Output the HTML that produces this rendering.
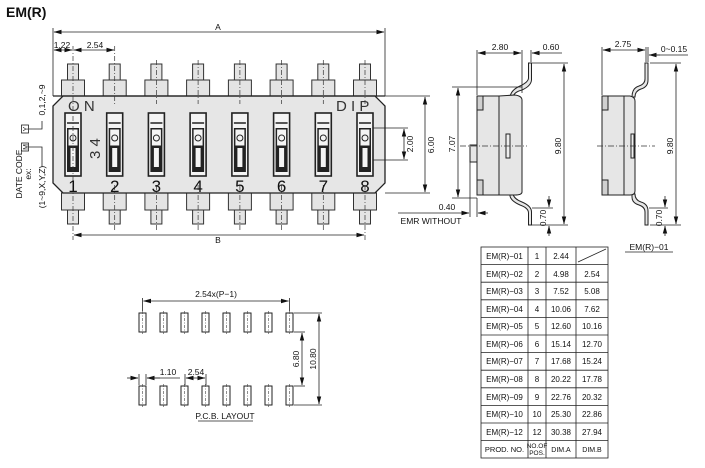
<!DOCTYPE html>
<html><head><meta charset="utf-8"><style>
body{margin:0;background:#fff}
svg{display:block}
text{font-family:"Liberation Sans",sans-serif;fill:#111}
</style></head><body>
<svg width="705" height="468" viewBox="0 0 705 468" xmlns="http://www.w3.org/2000/svg">
<defs>
<marker id="a" markerWidth="8" markerHeight="6" refX="7.5" refY="3" orient="auto-start-reverse" markerUnits="userSpaceOnUse"><path d="M0,0.8 L8,3 L0,5.2z" fill="#111"/></marker>
<g id="pinT"><rect x="-5.5" y="64" width="11" height="16" fill="#e4e4e4" stroke="#333" stroke-width="1"/><rect x="-11.5" y="80" width="23" height="16" fill="#e4e4e4" stroke="#333" stroke-width="1"/></g>
<g id="pinB"><rect x="-11.5" y="193" width="23" height="17" fill="#e4e4e4" stroke="#333" stroke-width="1"/><rect x="-5.5" y="210" width="11" height="14" fill="#e4e4e4" stroke="#333" stroke-width="1"/></g>
<g id="sw"><rect x="-8" y="113" width="16" height="63" fill="#f4f4f4" stroke="#222" stroke-width="1.6"/><rect x="-6" y="128" width="12" height="44" fill="#222"/><rect x="-4.5" y="129.5" width="9" height="16" fill="#f4f4f4"/><circle cx="0" cy="138" r="3" fill="#f4f4f4" stroke="#222" stroke-width="1"/><rect x="-2.5" y="148" width="5" height="19" fill="#f4f4f4"/><line x1="-6" y1="123" x2="6" y2="123" stroke="#222" stroke-width="1.5"/></g>
<g id="pad"><rect x="-3.5" y="0" width="7" height="19" fill="#fff" stroke="#222" stroke-width="1"/><line x1="0" y1="-2" x2="0" y2="21" stroke="#444" stroke-width="0.6" stroke-dasharray="3,1.5,1,1.5"/></g>
</defs>

<text x="6" y="17" font-size="14" font-weight="bold">EM(R)</text>

<g>
<use href="#pinT" x="73"/><use href="#pinT" x="114.7"/><use href="#pinT" x="156.4"/><use href="#pinT" x="198.1"/><use href="#pinT" x="239.9"/><use href="#pinT" x="281.6"/><use href="#pinT" x="323.3"/><use href="#pinT" x="365"/>
<use href="#pinB" x="73"/><use href="#pinB" x="114.7"/><use href="#pinB" x="156.4"/><use href="#pinB" x="198.1"/><use href="#pinB" x="239.9"/><use href="#pinB" x="281.6"/><use href="#pinB" x="323.3"/><use href="#pinB" x="365"/>
</g>
<polygon points="63,96 375,96 385,106 385,183 375,193 63,193 53,183 53,106" fill="#e6e6e6" stroke="#222" stroke-width="1.3"/>
<line x1="53" y1="96" x2="385" y2="96" stroke="#222" stroke-width="1.3"/>
<g>
<use href="#sw" x="73"/><use href="#sw" x="114.7"/><use href="#sw" x="156.4"/><use href="#sw" x="198.1"/><use href="#sw" x="239.9"/><use href="#sw" x="281.6"/><use href="#sw" x="323.3"/><use href="#sw" x="365"/>
</g>
<g stroke="#333" stroke-width="0.7" stroke-dasharray="5,2,1,2">
<line x1="73" y1="46" x2="73" y2="240"/><line x1="114.7" y1="46" x2="114.7" y2="104"/><line x1="114.7" y1="185" x2="114.7" y2="232"/>
<line x1="156.4" y1="60" x2="156.4" y2="104"/><line x1="156.4" y1="185" x2="156.4" y2="232"/>
<line x1="198.1" y1="60" x2="198.1" y2="104"/><line x1="198.1" y1="185" x2="198.1" y2="232"/>
<line x1="239.9" y1="60" x2="239.9" y2="104"/><line x1="239.9" y1="185" x2="239.9" y2="232"/>
<line x1="281.6" y1="60" x2="281.6" y2="104"/><line x1="281.6" y1="185" x2="281.6" y2="232"/>
<line x1="323.3" y1="60" x2="323.3" y2="104"/><line x1="323.3" y1="185" x2="323.3" y2="232"/>
<line x1="365" y1="60" x2="365" y2="104"/><line x1="365" y1="185" x2="365" y2="240"/>
</g>
<text x="68" y="111" font-size="15" style="fill:#333">O N</text>
<text x="336" y="111" font-size="15" style="fill:#333">D I P</text>
<text x="0" y="0" font-size="15" transform="translate(100,159) rotate(-90)" style="fill:#333">3 4</text>
<g font-size="17" text-anchor="middle" style="fill:#333">
<text x="73" y="192">1</text><text x="114.7" y="192">2</text><text x="156.4" y="192">3</text><text x="198.1" y="192">4</text><text x="239.9" y="192">5</text><text x="281.6" y="192">6</text><text x="323.3" y="192">7</text><text x="365" y="192">8</text>
</g>

<g stroke="#222" stroke-width="0.8" fill="none">
<line x1="53" y1="28" x2="53" y2="96"/><line x1="385" y1="28" x2="385" y2="96"/>
<line x1="54" y1="32" x2="384" y2="32" marker-start="url(#a)" marker-end="url(#a)"/>
<line x1="54" y1="50" x2="72" y2="50" marker-start="url(#a)" marker-end="url(#a)"/>
<line x1="74" y1="50" x2="114" y2="50" marker-start="url(#a)" marker-end="url(#a)"/>
<line x1="74" y1="235" x2="364" y2="235" marker-start="url(#a)" marker-end="url(#a)"/>
<line x1="385" y1="96" x2="430" y2="96"/><line x1="385" y1="193" x2="430" y2="193"/>
<line x1="425" y1="97" x2="425" y2="192" marker-start="url(#a)" marker-end="url(#a)"/>
<line x1="373" y1="128" x2="408" y2="128"/><line x1="373" y1="160" x2="408" y2="160"/>
<line x1="404" y1="129" x2="404" y2="159" marker-start="url(#a)" marker-end="url(#a)"/>
</g>
<g font-size="8.5" text-anchor="middle">
<text x="218" y="30">A</text>
<text x="62" y="48">1.22</text><text x="95" y="48">2.54</text>
<text x="218" y="243">B</text>
<text transform="translate(434,145) rotate(-90)">6.00</text>
<text transform="translate(413,144) rotate(-90)">2.00</text>
</g>

<g font-size="8.5" text-anchor="middle">
<text transform="translate(22,174) rotate(-90)">DATE  CODE</text>
<text transform="translate(31,174) rotate(-90)">ex:</text>
<text transform="translate(45,187) rotate(-90)">(1~9,X,Y,Z)</text>
<text transform="translate(45,100) rotate(-90)">0,1,2,~9</text>
<text transform="translate(28,129) rotate(-90)" font-size="7">Y</text>
<text transform="translate(28,147) rotate(-90)" font-size="7">M</text>
</g>
<g stroke="#222" stroke-width="0.8" fill="none">
<rect x="21.5" y="125" width="7" height="8"/><rect x="21.5" y="143" width="7" height="8"/>
<polyline points="28.5,129 42,129 42,121"/><polyline points="28.5,147 42,147 42,167"/>
</g>

<g stroke="#222" stroke-width="1" fill="#e6e6e6">
<path d="M528.5,63 L531.5,63 L531.5,80 Q531,86 522,90 Q514,92 513,97 L510,97 Q511,90 520,86 Q528.5,82 528.5,78z"/>
<path d="M510,194 L513,194 Q514,199 522,202 Q531.5,206 531.5,212 L531.5,225 L528.5,225 L528.5,213 Q528.5,208 520,205 Q511,201 510,196z"/>
<rect x="470" y="145" width="7" height="17"/>
<path d="M477,96 L499,96 L499,195 L477,195z"/>
<path d="M499,96 L515,95 Q522,96 522,100 L522,192 Q522,195 515,195 L499,195z"/>
<rect x="477" y="96" width="6" height="14" fill="#d0d0d0"/>
<rect x="477" y="180" width="6" height="15" fill="#d0d0d0"/>
<rect x="506" y="134" width="4" height="24" fill="#eee"/>
</g>
<line x1="460" y1="146" x2="527" y2="146" stroke="#333" stroke-width="0.7" stroke-dasharray="6,2,1,2"/>
<g stroke="#222" stroke-width="0.8" fill="none">
<line x1="477" y1="50" x2="477" y2="95"/><line x1="522" y1="50" x2="522" y2="93"/><line x1="531" y1="50" x2="531" y2="62"/>
<line x1="478" y1="53" x2="521" y2="53" marker-start="url(#a)" marker-end="url(#a)"/>
<line x1="540" y1="53" x2="532" y2="53" marker-end="url(#a)"/><line x1="532" y1="53" x2="562" y2="53"/>
<line x1="452" y1="87" x2="522" y2="87"/><line x1="452" y1="198" x2="477" y2="198"/>
<line x1="458" y1="88" x2="458" y2="197" marker-start="url(#a)" marker-end="url(#a)"/>
<line x1="532" y1="63" x2="568" y2="63"/><line x1="532" y1="225" x2="568" y2="225"/>
<line x1="564" y1="64" x2="564" y2="224" marker-start="url(#a)" marker-end="url(#a)"/>
<line x1="532" y1="208" x2="553" y2="208"/>
<line x1="549" y1="196" x2="549" y2="207" marker-end="url(#a)"/><line x1="549" y1="236" x2="549" y2="226" marker-end="url(#a)"/>
<line x1="470" y1="162" x2="470" y2="217"/><line x1="477" y1="198" x2="477" y2="217"/>
<line x1="398" y1="213" x2="469" y2="213" marker-end="url(#a)"/><line x1="488" y1="213" x2="478" y2="213" marker-end="url(#a)"/>
</g>
<g font-size="8.5" text-anchor="middle">
<text x="500" y="50">2.80</text><text x="551" y="50">0.60</text>
<text transform="translate(455,144) rotate(-90)">7.07</text>
<text transform="translate(561,146) rotate(-90)">9.80</text>
<text transform="translate(546,218) rotate(-90)">0.70</text>
<text x="447" y="210">0.40</text>
<text x="431" y="224" font-size="8.5">EMR  WITHOUT</text>
</g>

<g stroke="#222" stroke-width="1" fill="#e6e6e6">
<path d="M645,63 L648,63 L648,80 Q648,87 641,89 Q635,91 635,97 L632,97 Q632,88 639,86 Q645,84 645,79z"/>
<path d="M632,194 L635,194 Q635,200 641,202 Q648,204 648,211 L648,225 L645,225 L645,212 Q645,207 639,205 Q632,203 632,197z"/>
<path d="M602,96 L624,96 L624,195 L602,195z"/>
<path d="M624,96 L630,96 Q635,97 635,101 L635,191 Q635,195 630,195 L624,195z"/>
<rect x="602" y="96" width="6" height="14" fill="#d0d0d0"/>
<rect x="602" y="180" width="6" height="15" fill="#d0d0d0"/>
<rect x="631" y="134" width="3" height="24" fill="#eee"/>
</g>
<line x1="597" y1="146" x2="655" y2="146" stroke="#333" stroke-width="0.7" stroke-dasharray="6,2,1,2"/>
<g stroke="#222" stroke-width="0.8" fill="none">
<line x1="602" y1="47" x2="602" y2="95"/><line x1="646" y1="47" x2="646" y2="62"/><line x1="648" y1="47" x2="648" y2="62"/>
<line x1="603" y1="50" x2="645" y2="50" marker-start="url(#a)" marker-end="url(#a)"/>
<line x1="660" y1="55" x2="649" y2="55" marker-end="url(#a)"/><line x1="649" y1="55" x2="688" y2="55"/>
<line x1="650" y1="63" x2="681" y2="63"/><line x1="650" y1="225" x2="681" y2="225"/>
<line x1="676" y1="64" x2="676" y2="224" marker-start="url(#a)" marker-end="url(#a)"/>
<line x1="649" y1="208" x2="668" y2="208"/>
<line x1="665" y1="196" x2="665" y2="207" marker-end="url(#a)"/><line x1="665" y1="236" x2="665" y2="226" marker-end="url(#a)"/>
<line x1="625" y1="252" x2="673" y2="252"/>
</g>
<g font-size="8.5" text-anchor="middle">
<text x="623" y="47">2.75</text><text x="674" y="52">0~0.15</text>
<text transform="translate(673,146) rotate(-90)">9.80</text>
<text transform="translate(662,218) rotate(-90)">0.70</text>
<text x="649" y="250">EM(R)−01</text>
</g>

<g>
<use href="#pad" x="142.5" y="313"/><use href="#pad" x="163.5" y="313"/><use href="#pad" x="184.5" y="313"/><use href="#pad" x="205.5" y="313"/><use href="#pad" x="226.5" y="313"/><use href="#pad" x="247.5" y="313"/><use href="#pad" x="268.5" y="313"/><use href="#pad" x="289.5" y="313"/>
<use href="#pad" x="142.5" y="386"/><use href="#pad" x="163.5" y="386"/><use href="#pad" x="184.5" y="386"/><use href="#pad" x="205.5" y="386"/><use href="#pad" x="226.5" y="386"/><use href="#pad" x="247.5" y="386"/><use href="#pad" x="268.5" y="386"/><use href="#pad" x="289.5" y="386"/>
</g>
<g stroke="#222" stroke-width="0.8" fill="none">
<line x1="142.5" y1="298" x2="142.5" y2="311"/><line x1="289.5" y1="298" x2="289.5" y2="311"/>
<line x1="143.5" y1="301" x2="288.5" y2="301" marker-start="url(#a)" marker-end="url(#a)"/>
<line x1="294" y1="313" x2="322" y2="313"/><line x1="294" y1="405" x2="322" y2="405"/>
<line x1="294" y1="332" x2="305" y2="332"/><line x1="294" y1="386" x2="305" y2="386"/>
<line x1="319" y1="314" x2="319" y2="404" marker-start="url(#a)" marker-end="url(#a)"/>
<line x1="302" y1="333" x2="302" y2="385" marker-start="url(#a)" marker-end="url(#a)"/>
<line x1="139" y1="374" x2="139" y2="385"/><line x1="146" y1="374" x2="146" y2="385"/>
<line x1="127" y1="378" x2="138" y2="378" marker-end="url(#a)"/><line x1="160" y1="378" x2="147" y2="378" marker-end="url(#a)"/><line x1="147" y1="378" x2="180" y2="378"/>
<line x1="185" y1="374" x2="185" y2="385"/><line x1="206" y1="374" x2="206" y2="385"/>
<line x1="186" y1="378" x2="205" y2="378" marker-start="url(#a)" marker-end="url(#a)"/>
<line x1="198" y1="421" x2="253" y2="421"/>
</g>
<g font-size="8.5" text-anchor="middle">
<text x="216" y="297">2.54x(P−1)</text>
<text transform="translate(299,359) rotate(-90)">6.80</text>
<text transform="translate(316,359) rotate(-90)">10.80</text>
<text x="168" y="375">1.10</text><text x="196" y="375">2.54</text>
<text x="225" y="419">P.C.B.  LAYOUT</text>
</g>

<g stroke="#222" stroke-width="0.8" fill="none">
<rect x="481" y="247" width="127" height="211"/>
<line x1="528" y1="247" x2="528" y2="458"/><line x1="546" y1="247" x2="546" y2="458"/><line x1="576" y1="247" x2="576" y2="458"/>
<line x1="481" y1="264.6" x2="608" y2="264.6"/><line x1="481" y1="282.2" x2="608" y2="282.2"/><line x1="481" y1="299.8" x2="608" y2="299.8"/><line x1="481" y1="317.4" x2="608" y2="317.4"/><line x1="481" y1="335" x2="608" y2="335"/><line x1="481" y1="352.6" x2="608" y2="352.6"/><line x1="481" y1="370.2" x2="608" y2="370.2"/><line x1="481" y1="387.8" x2="608" y2="387.8"/><line x1="481" y1="405.4" x2="608" y2="405.4"/><line x1="481" y1="423" x2="608" y2="423"/><line x1="481" y1="440.6" x2="608" y2="440.6"/>
<line x1="578" y1="262" x2="606" y2="249"/>
</g>
<g font-size="8" text-anchor="middle">
<text x="504.5" y="259">EM(R)−01</text><text x="537" y="259">1</text><text x="561" y="259">2.44</text>
<text x="504.5" y="277">EM(R)−02</text><text x="537" y="277">2</text><text x="561" y="277">4.98</text><text x="592" y="277">2.54</text>
<text x="504.5" y="294">EM(R)−03</text><text x="537" y="294">3</text><text x="561" y="294">7.52</text><text x="592" y="294">5.08</text>
<text x="504.5" y="312">EM(R)−04</text><text x="537" y="312">4</text><text x="561" y="312">10.06</text><text x="592" y="312">7.62</text>
<text x="504.5" y="329">EM(R)−05</text><text x="537" y="329">5</text><text x="561" y="329">12.60</text><text x="592" y="329">10.16</text>
<text x="504.5" y="347">EM(R)−06</text><text x="537" y="347">6</text><text x="561" y="347">15.14</text><text x="592" y="347">12.70</text>
<text x="504.5" y="364">EM(R)−07</text><text x="537" y="364">7</text><text x="561" y="364">17.68</text><text x="592" y="364">15.24</text>
<text x="504.5" y="382">EM(R)−08</text><text x="537" y="382">8</text><text x="561" y="382">20.22</text><text x="592" y="382">17.78</text>
<text x="504.5" y="400">EM(R)−09</text><text x="537" y="400">9</text><text x="561" y="400">22.76</text><text x="592" y="400">20.32</text>
<text x="504.5" y="417">EM(R)−10</text><text x="537" y="417">10</text><text x="561" y="417">25.30</text><text x="592" y="417">22.86</text>
<text x="504.5" y="435">EM(R)−12</text><text x="537" y="435">12</text><text x="561" y="435">30.38</text><text x="592" y="435">27.94</text>
<text x="504.5" y="452" font-size="7.5">PROD. NO.</text>
<text x="537" y="448" font-size="6.5">NO.OF</text><text x="537" y="455" font-size="6.5">POS.</text>
<text x="561" y="452" font-size="7">DIM.A</text><text x="592" y="452" font-size="7">DIM.B</text>
</g>
</svg>
</body></html>
